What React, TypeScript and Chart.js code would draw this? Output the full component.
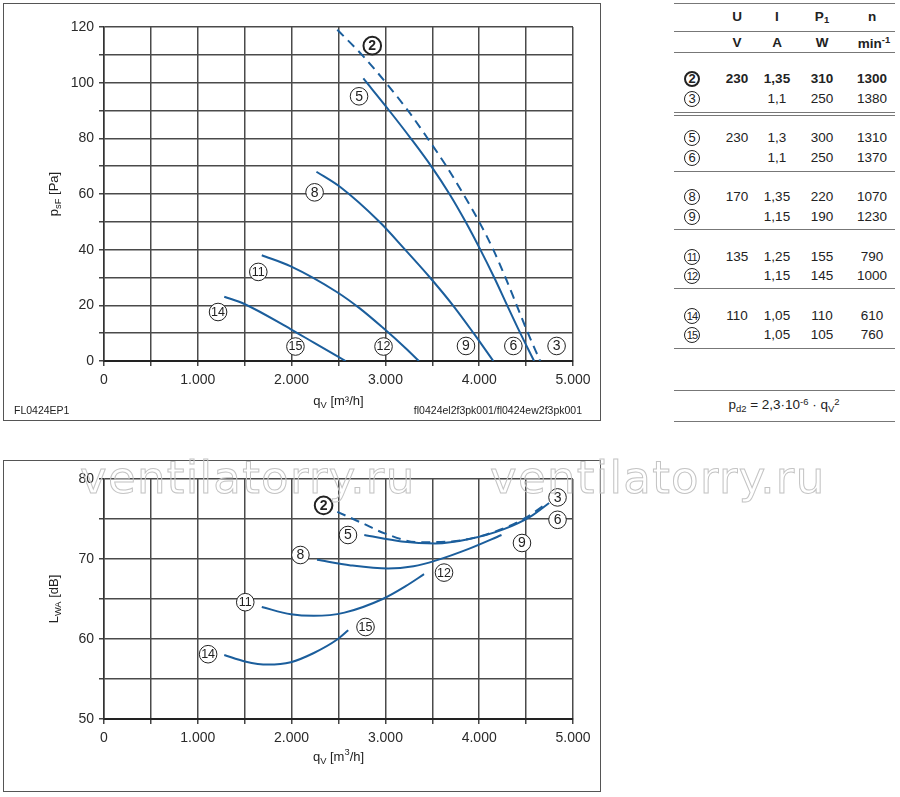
import React, { useEffect, useRef } from 'react';
import { Chart, registerables } from 'chart.js';

Chart.register(...registerables);

const FONT = '"Liberation Sans", Arial, Helvetica, sans-serif';
const BLUE = '#1b5e9c';

// ---------- Pressure chart data (q in m³/h, p in Pa) ----------
const pQ2 = [2487, 2750, 3005, 3240, 3450, 3650, 3830, 4000, 4150, 4280, 4400, 4520, 4650];
const pP2 = [119, 110, 100, 90, 80, 70, 60, 50, 40, 30, 20, 10, 0];
const pQ5 = [2765, 3040, 3270, 3488, 3683, 3855, 4012, 4160, 4298, 4438, 4585];
const pP5 = [101.5, 90, 80, 70, 60, 50, 40, 30, 20, 10, 0];
const pQ8 = [2265, 2522, 2936, 3210, 3475, 3720, 3940, 4150];
const pP8 = [68, 62.4, 50, 40, 30, 20, 10, 0];
const pQ11 = [1682, 1992, 2482, 2727, 2971, 3216, 3357];
const pP11 = [38, 34.0, 24.8, 18.9, 12.0, 4.6, 0];
const pQ14 = [1282, 1502, 1992, 2237, 2576];
const pP14 = [23.1, 20.4, 11.4, 6.6, 0];

const pLabelNums = ['2', '5', '8', '11', '14', '15', '12', '9', '6', '3'];
const pLabelQ = [2860, 2719, 2245, 1645, 1216, 2041, 2980, 3859, 4364, 4825];
const pLabelP = [113.3, 95.1, 60.6, 32.0, 17.6, 5.2, 5.2, 5.4, 5.4, 5.4];

// ---------- Sound power chart data (q in m³/h, L in dB) ----------
const sQ2 = [2487, 2750, 2992, 3353, 3714, 4112, 4473, 4727];
const sL2 = [75.9, 74.5, 73.2, 72.1, 72.2, 73.2, 75.0, 77.0];
const sQ5 = [2775, 3172, 3534, 3895, 4257, 4546, 4745];
const sL5 = [73.0, 72.2, 71.95, 72.5, 73.7, 75.3, 77.0];
const sQ8 = [2271, 2631, 3028, 3300, 3534, 3895, 4238];
const sL8 = [69.9, 69.2, 68.8, 69.1, 69.8, 71.3, 73.0];
const sQ11 = [1682, 1992, 2237, 2563, 2971, 3216, 3412];
const sL11 = [64.0, 63.1, 62.9, 63.3, 65.0, 66.6, 68.1];
const sQ14 = [1282, 1502, 1747, 1992, 2237, 2482, 2604];
const sL14 = [58.0, 57.2, 56.8, 57.1, 58.25, 59.9, 61.1];

const sLabelNums = ['2', '5', '8', '11', '14', '15', '12', '9', '6', '3'];
const sLabelQ = [2341, 2601, 2094, 1506, 1110, 2788, 3625, 4456, 4835, 4835];
const sLabelL = [76.7, 73.0, 70.5, 64.6, 58.1, 61.5, 68.3, 72.0, 74.9, 77.7];

// ---------- Table data ----------
const tableIds = ['2', '3', '5', '6', '8', '9', '11', '12', '14', '15'];
const tableU = ['230', '', '230', '', '170', '', '135', '', '110', ''];
const tableI = ['1,35', '1,1', '1,3', '1,1', '1,35', '1,15', '1,25', '1,15', '1,05', '1,05'];
const tableP = ['310', '250', '300', '250', '220', '190', '155', '145', '110', '105'];
const tableN = ['1300', '1380', '1310', '1370', '1070', '1230', '790', '1000', '610', '760'];

const xTickLabels = ['0', '1.000', '2.000', '3.000', '4.000', '5.000'];

type Part = { t: string; m?: 'sub' | 'sup' };

function drawRich(ctx: CanvasRenderingContext2D, parts: Part[], cx: number, cy: number, size: number) {
  const small = size * 0.72;
  const widths = parts.map((p) => {
    ctx.font = `${p.m ? small : size}px ${FONT}`;
    return ctx.measureText(p.t).width;
  });
  const total = widths.reduce((a, b) => a + b, 0);
  let x = cx - total / 2;
  ctx.textAlign = 'left';
  ctx.textBaseline = 'alphabetic';
  const base = cy + size * 0.35;
  parts.forEach((p, i) => {
    ctx.font = `${p.m ? small : size}px ${FONT}`;
    const dy = p.m === 'sub' ? size * 0.3 : p.m === 'sup' ? -size * 0.42 : 0;
    ctx.fillText(p.t, x, base + dy);
    x += widths[i];
  });
}

function series(q: number[], v: number[]) {
  return q.map((x, i) => ({ x, y: v[i] }));
}

function curve(q: number[], v: number[], dashed = false) {
  return {
    data: series(q, v),
    borderColor: BLUE,
    borderWidth: 2,
    pointRadius: 0,
    cubicInterpolationMode: 'monotone',
    fill: false,
    borderDash: dashed ? [9, 6] : [],
  };
}

type ChartSpec = {
  width: number;
  height: number;
  padTop: number;
  xHeight: number;
  yMin: number;
  yMax: number;
  yStep: number;
  yLabelStep: number;
  datasets: any[];
  labelNums: string[];
  labelX: number[];
  labelY: number[];
  yTitle: Part[];
  xTitle: Part[];
  xTitleY: number;
  footer?: boolean;
};

function FanChart(props: ChartSpec) {
  const ref = useRef<HTMLCanvasElement>(null);
  useEffect(() => {
    if (!ref.current) return;
    const sp = props;
    const labelsPlugin = {
      id: 'circLabels',
      afterDatasetsDraw(chart: any) {
        const ctx = chart.ctx as CanvasRenderingContext2D;
        const xs = chart.scales.x;
        const ys = chart.scales.y;
        ctx.save();
        sp.labelNums.forEach((n, i) => {
          const px = xs.getPixelForValue(sp.labelX[i]);
          const py = ys.getPixelForValue(sp.labelY[i]);
          const bold = n === '2';
          ctx.beginPath();
          ctx.arc(px, py, 8.8, 0, Math.PI * 2);
          ctx.fillStyle = '#fff';
          ctx.fill();
          ctx.lineWidth = bold ? 2 : 1;
          ctx.strokeStyle = '#222';
          ctx.stroke();
          ctx.fillStyle = '#222';
          ctx.font = `${bold ? 'bold ' : ''}${n.length > 1 ? 12.5 : 14}px ${FONT}`;
          ctx.textAlign = 'center';
          ctx.textBaseline = 'middle';
          ctx.fillText(n, px, py + 0.5);
        });
        ctx.restore();
      },
    };
    const titlePlugin = {
      id: 'richTitles',
      afterDraw(chart: any) {
        const ctx = chart.ctx as CanvasRenderingContext2D;
        const a = chart.chartArea;
        ctx.save();
        ctx.fillStyle = '#222';
        drawRich(ctx, sp.xTitle, (a.left + a.right) / 2, sp.xTitleY, 13);
        ctx.translate(49, (a.top + a.bottom) / 2);
        ctx.rotate(-Math.PI / 2);
        drawRich(ctx, sp.yTitle, 0, 0, 13);
        ctx.restore();
        if (sp.footer) {
          ctx.save();
          ctx.fillStyle = '#222';
          ctx.textBaseline = 'middle';
          ctx.font = `10.5px ${FONT}`;
          ctx.textAlign = 'left';
          ctx.fillText('FL0424EP1', 10, 407);
          ctx.textAlign = 'right';
          ctx.fillText('fl0424el2f3pk001/fl0424ew2f3pk001', 578, 407);
          ctx.restore();
        }
      },
    };
    const chart = new Chart(ref.current, {
      type: 'line',
      data: { datasets: sp.datasets },
      options: {
        animation: false,
        responsive: false,
        devicePixelRatio: 1,
        layout: { padding: { top: sp.padTop, right: 27, left: 0, bottom: 0 } },
        plugins: { legend: { display: false }, tooltip: { enabled: false }, title: { display: false } },
        scales: {
          x: {
            type: 'linear',
            min: 0,
            max: 5000,
            afterFit: (s: any) => {
              s.height = sp.xHeight;
            },
            ticks: {
              stepSize: 500,
              autoSkip: false,
              maxRotation: 0,
              padding: 6,
              color: '#2a2a2a',
              font: { family: FONT, size: 14 },
              callback: (v: any) => (Number(v) % 1000 === 0 ? xTickLabels[Number(v) / 1000] : ''),
            },
            grid: { color: '#4a4a4a', lineWidth: 1.5, tickLength: 5, drawTicks: true, tickColor: '#444' },
            border: { display: true, color: '#222', width: 2 },
          },
          y: {
            type: 'linear',
            min: sp.yMin,
            max: sp.yMax,
            afterFit: (s: any) => {
              s.width = 100;
            },
            ticks: {
              stepSize: sp.yStep,
              autoSkip: false,
              padding: 5,
              color: '#2a2a2a',
              font: { family: FONT, size: 14 },
              callback: (v: any) => (Number(v) % sp.yLabelStep === 0 ? String(v) : ''),
            },
            grid: { color: '#4a4a4a', lineWidth: 1.5, tickLength: 5, drawTicks: true, tickColor: '#444' },
            border: { display: true, color: '#333', width: 1.5 },
          },
        },
      },
      plugins: [labelsPlugin, titlePlugin],
    } as any);
    return () => chart.destroy();
  }, []);
  return (
    <canvas
      ref={ref}
      width={props.width}
      height={props.height}
      style={{ display: 'block', width: props.width, height: props.height }}
    />
  );
}

const cellBase: React.CSSProperties = {
  position: 'absolute',
  transform: 'translate(-50%, -50%)',
  whiteSpace: 'nowrap',
  fontFamily: FONT,
  fontSize: 13.5,
  color: '#222',
  lineHeight: 1,
};

function Cell({ x, y, children, bold }: { x: number; y: number; children: any; bold?: boolean }) {
  return <div style={{ ...cellBase, left: x, top: y, fontWeight: bold ? 'bold' : 'normal' }}>{children}</div>;
}

function Circ({ x, y, n }: { x: number; y: number; n: string }) {
  const bold = n === '2';
  return (
    <div
      style={{
        position: 'absolute',
        left: x - 8,
        top: y - 8,
        width: 16,
        height: 16,
        boxSizing: 'border-box',
        borderRadius: '50%',
        border: `${bold ? 2 : 1}px solid #222`,
        fontFamily: FONT,
        fontSize: n.length > 1 ? 11 : 13,
        fontWeight: bold ? 'bold' : 'normal',
        lineHeight: bold ? '12px' : '14px',
        textAlign: 'center',
        color: '#222',
        letterSpacing: n.length > 1 ? -0.8 : 0,
      }}
    >
      {n}
    </div>
  );
}

function HLine({ y }: { y: number }) {
  return <div style={{ position: 'absolute', left: 674, width: 221, top: y, height: 1, background: '#777' }} />;
}

function Table() {
  const cx = { id: 692, u: 737, i: 777, p: 822, n: 872 };
  const rows = tableIds.map((id, k) => {
    const g = Math.floor(k / 2);
    const y = 79 + g * 59.2 + (k % 2) * 19.5;
    const bold = k === 0;
    return (
      <React.Fragment key={id}>
        <Circ x={cx.id} y={y} n={id} />
        <Cell x={cx.u} y={y} bold={bold}>{tableU[k]}</Cell>
        <Cell x={cx.i} y={y} bold={bold}>{tableI[k]}</Cell>
        <Cell x={cx.p} y={y} bold={bold}>{tableP[k]}</Cell>
        <Cell x={cx.n} y={y} bold={bold}>{tableN[k]}</Cell>
      </React.Fragment>
    );
  });
  const sub: React.CSSProperties = { fontSize: '0.7em', verticalAlign: '-0.25em' };
  const sup: React.CSSProperties = { fontSize: '0.7em', verticalAlign: '0.5em' };
  return (
    <>
      <HLine y={3} />
      <Cell x={cx.u} y={17} bold>U</Cell>
      <Cell x={cx.i} y={17} bold>I</Cell>
      <Cell x={cx.p} y={17} bold>
        P<span style={sub}>1</span>
      </Cell>
      <Cell x={cx.n} y={17} bold>n</Cell>
      <HLine y={31} />
      <Cell x={cx.u} y={43} bold>V</Cell>
      <Cell x={cx.i} y={43} bold>A</Cell>
      <Cell x={cx.p} y={43} bold>W</Cell>
      <Cell x={cx.n + 2} y={43} bold>
        min<span style={sup}>-1</span>
      </Cell>
      <HLine y={52} />
      {rows}
      <HLine y={112} />
      <HLine y={115} />
      <HLine y={171} />
      <HLine y={229} />
      <HLine y={288} />
      <HLine y={348} />
      <HLine y={390} />
      <Cell x={784} y={405}>
        p<span style={sub}>d2</span> = 2,3·10<span style={sup}>-6</span> · q<span style={sub}>V</span>
        <span style={sup}>2</span>
      </Cell>
      <HLine y={421} />
    </>
  );
}

export default function App() {
  const topSets = [
    curve(pQ2, pP2, true),
    curve(pQ5, pP5),
    curve(pQ8, pP8),
    curve(pQ11, pP11),
    curve(pQ14, pP14),
  ];
  const botSets = [
    curve(sQ2, sL2, true),
    curve(sQ5, sL5),
    curve(sQ8, sL8),
    curve(sQ11, sL11),
    curve(sQ14, sL14),
  ];
  const wm: React.CSSProperties = {
    position: 'absolute',
    top: 455,
    fontFamily: '"DejaVu Sans", sans-serif',
    fontSize: 45,
    letterSpacing: 1.3,
    lineHeight: 1,
    color: 'transparent',
    WebkitTextStroke: '1px #c4c4c4',
    pointerEvents: 'none',
    whiteSpace: 'nowrap',
  };
  return (
    <div style={{ position: 'absolute', left: 0, top: 0, width: 900, height: 797, background: '#fff', overflow: 'hidden' }}>
      <div style={{ position: 'absolute', left: 3, top: 3, width: 596, height: 416, border: '1px solid #555' }}>
        <FanChart
          width={596}
          height={416}
          padTop={23}
          xHeight={59}
          yMin={0}
          yMax={120}
          yStep={10}
          yLabelStep={20}
          datasets={topSets}
          labelNums={pLabelNums}
          labelX={pLabelQ}
          labelY={pLabelP}
          yTitle={[{ t: 'p' }, { t: 'sF', m: 'sub' }, { t: ' [Pa]' }]}
          xTitle={[{ t: 'q' }, { t: 'V', m: 'sub' }, { t: ' [m³/h]' }]}
          xTitleY={396}
          footer
        />
      </div>
      <div style={{ position: 'absolute', left: 3, top: 460, width: 596, height: 330, border: '1px solid #555' }}>
        <FanChart
          width={596}
          height={330}
          padTop={18}
          xHeight={72}
          yMin={50}
          yMax={80}
          yStep={5}
          yLabelStep={10}
          datasets={botSets}
          labelNums={sLabelNums}
          labelX={sLabelQ}
          labelY={sLabelL}
          yTitle={[{ t: 'L' }, { t: 'WA', m: 'sub' }, { t: ' [dB]' }]}
          xTitle={[{ t: 'q' }, { t: 'V', m: 'sub' }, { t: ' [m' }, { t: '3', m: 'sup' }, { t: '/h]' }]}
          xTitleY={295}
        />
      </div>
      <Table />
      <div style={{ ...wm, left: 80 }}>ventilatorry.ru</div>
      <div style={{ ...wm, left: 490 }}>ventilatorry.ru</div>
    </div>
  );
}
